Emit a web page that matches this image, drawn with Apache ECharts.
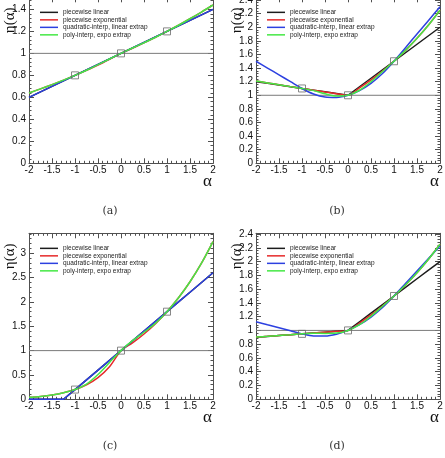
<!DOCTYPE html>
<html>
<head>
<meta charset="utf-8">
<script src="https://cdn.jsdelivr.net/npm/echarts/dist/echarts.min.js"></script>
<style>
  html, body { margin: 0; padding: 0; background: #fff; }
  #chart { width: 445px; height: 458px; }
</style>
</head>
<body>
<div id="chart"></div>
<script>
// alpha sampling and interpolation nodes
const alpha = [-2, -1.75, -1.5, -1.25, -1, -0.75, -0.5, -0.25, 0, 0.25, 0.5, 0.75, 1, 1.25, 1.5, 1.75, 2]
const nodeAlpha = [-1, 0, 1]

// (a)
const linA = [0.6, 0.65, 0.7, 0.75, 0.8, 0.85, 0.9, 0.95, 1, 1.05, 1.1, 1.15, 1.2, 1.25, 1.3, 1.35, 1.4]
const expA = [0.64, 0.677, 0.716, 0.757, 0.8, 0.846, 0.894, 0.946, 1, 1.047, 1.095, 1.147, 1.2, 1.256, 1.315, 1.376, 1.44]
const quadA = [0.6, 0.65, 0.7, 0.75, 0.8, 0.85, 0.9, 0.95, 1, 1.05, 1.1, 1.15, 1.2, 1.25, 1.3, 1.35, 1.4]
const polyA = [0.64, 0.677, 0.716, 0.757, 0.8, 0.846, 0.897, 0.949, 1, 1.049, 1.097, 1.147, 1.2, 1.256, 1.315, 1.376, 1.44]
const nodesA = [0.8, 1, 1.2]

// (b)
const linB = [1.2, 1.175, 1.15, 1.125, 1.1, 1.075, 1.05, 1.025, 1, 1.125, 1.25, 1.375, 1.5, 1.625, 1.75, 1.875, 2]
const expB = [1.21, 1.182, 1.154, 1.127, 1.1, 1.074, 1.049, 1.024, 1, 1.107, 1.225, 1.355, 1.5, 1.66, 1.837, 2.033, 2.25]
const quadB = [1.5, 1.4, 1.3, 1.2, 1.1, 1.019, 0.975, 0.969, 1, 1.069, 1.175, 1.319, 1.5, 1.7, 1.9, 2.1, 2.3]
const polyB = [1.21, 1.182, 1.154, 1.127, 1.1, 1.068, 1.022, 0.988, 1, 1.074, 1.2, 1.35, 1.5, 1.66, 1.837, 2.033, 2.25]
const nodesB = [1.1, 1, 1.5]

// (c)
const linC = [0, 0, 0, 0, 0.2, 0.4, 0.6, 0.8, 1, 1.2, 1.4, 1.6, 1.8, 2.0, 2.2, 2.4, 2.6]
const expC = [0.04, 0.06, 0.089, 0.134, 0.2, 0.299, 0.447, 0.669, 1, 1.158, 1.342, 1.554, 1.8, 2.085, 2.415, 2.797, 3.24]
const quadC = [0, 0, 0, 0, 0.2, 0.4, 0.6, 0.8, 1, 1.2, 1.4, 1.6, 1.8, 2.0, 2.2, 2.4, 2.6]
const polyC = [0.04, 0.06, 0.089, 0.134, 0.2, 0.313, 0.509, 0.757, 1, 1.204, 1.377, 1.563, 1.8, 2.085, 2.415, 2.797, 3.24]
const nodesC = [0.2, 1, 1.8]

// (d)
const linD = [0.9, 0.9125, 0.925, 0.9375, 0.95, 0.9625, 0.975, 0.9875, 1, 1.125, 1.25, 1.375, 1.5, 1.625, 1.75, 1.875, 2]
const expD = [0.903, 0.914, 0.926, 0.938, 0.95, 0.962, 0.975, 0.987, 1, 1.107, 1.225, 1.355, 1.5, 1.66, 1.837, 2.033, 2.25]
const quadD = [1.125, 1.081, 1.038, 0.994, 0.95, 0.92, 0.919, 0.945, 1, 1.083, 1.194, 1.333, 1.5, 1.681, 1.863, 2.044, 2.225]
const polyD = [0.903, 0.914, 0.926, 0.938, 0.95, 0.959, 0.957, 0.962, 1, 1.083, 1.206, 1.351, 1.5, 1.66, 1.837, 2.033, 2.25]
const nodesD = [0.95, 1, 1.5]

const refLevel = [1, 1]
const yMax = [1.51, 2.44, 3.41, 2.41]
const yStep = [0.2, 0.2, 0.5, 0.2]
const captions = ['(a)', '(b)', '(c)', '(d)']
const names = ['piecewise linear', 'piecewise exponential', 'quadratic-interp, linear extrap', 'poly-interp, expo extrap']
const colors = ['#1c1c1c', '#e62a2a', '#2c40e0', '#45e845']

const panels = [
  [linA, expA, quadA, polyA, nodesA],
  [linB, expB, quadB, polyB, nodesB],
  [linC, expC, quadC, polyC, nodesC],
  [linD, expD, quadD, polyD, nodesD]
]
// quadratic curve is a straight line in (a) and (c), so no smoothing there
const quadSmooth = [false, 0.3, false, 0.3]

// layout
const boxes = [
  { left: 29, top: -2.7 },
  { left: 256, top: -2.7 },
  { left: 29, top: 233.3 },
  { left: 256, top: 233.3 }
]
const W = 184
const H = 166
const frame = '#505050'
const labelFont = { fontFamily: 'Liberation Sans', fontSize: 10, color: '#111' }

const zip = (xs, ys) => xs.map((x, i) => [x, ys[i]])

const grid = []
const xAxis = []
const yAxis = []
const series = []
const legend = []
const graphic = []

boxes.forEach((b, i) => {
  grid.push({ left: b.left, top: b.top, width: W, height: H, outerBoundsMode: 'none', containLabel: false })

  const tick = { show: true, inside: true, length: 5, lineStyle: { color: frame, width: 1 } }
  const minor = { show: true, splitNumber: 5, length: 2.5, lineStyle: { color: frame, width: 1 } }

  xAxis.push({
    type: 'value', gridIndex: i, min: -2, max: 2, interval: 0.5,
    axisLine: { show: true, onZero: false, lineStyle: { color: frame, width: 1 } },
    axisTick: tick, minorTick: minor, splitLine: { show: false },
    axisLabel: Object.assign({ margin: 2 }, labelFont)
  })
  xAxis.push({
    type: 'value', gridIndex: i, min: -2, max: 2, interval: 0.5, position: 'top',
    axisLine: { show: true, onZero: false, lineStyle: { color: frame, width: 1 } },
    axisTick: tick, minorTick: minor, splitLine: { show: false },
    axisLabel: { show: false }
  })
  yAxis.push({
    type: 'value', gridIndex: i, min: 0, max: yMax[i], interval: yStep[i],
    axisLine: { show: true, onZero: false, lineStyle: { color: frame, width: 1 } },
    axisTick: tick, minorTick: minor, splitLine: { show: false },
    axisLabel: Object.assign({ margin: 3, showMaxLabel: false }, labelFont)
  })
  yAxis.push({
    type: 'value', gridIndex: i, min: 0, max: yMax[i], interval: yStep[i], position: 'right',
    axisLine: { show: true, onZero: false, lineStyle: { color: frame, width: 1 } },
    axisTick: tick, minorTick: minor, splitLine: { show: false },
    axisLabel: { show: false }
  })

  const xi = i * 2
  const yi = i * 2

  // reference line at eta = 1
  series.push({
    type: 'line', xAxisIndex: xi, yAxisIndex: yi, data: zip([-2, 2], refLevel),
    symbol: 'none', silent: true, lineStyle: { color: '#7a7a7a', width: 1 }, z: 1
  })

  const p = panels[i]
  const smooth = [false, 0.3, quadSmooth[i], 0.3]
  for (let k = 0; k < 4; k++) {
    series.push({
      name: names[k], type: 'line', xAxisIndex: xi, yAxisIndex: yi,
      data: zip(alpha, p[k]), symbol: 'none',
      smooth: smooth[k],
      lineStyle: { color: colors[k], width: 1.5 },
      itemStyle: { color: colors[k] },
      z: 2 + k
    })
  }

  series.push({
    type: 'scatter', xAxisIndex: xi, yAxisIndex: yi, data: zip(nodeAlpha, p[4]),
    symbol: 'rect', symbolSize: 7, silent: true,
    itemStyle: { color: 'rgba(0,0,0,0)', borderColor: '#6a6a6a', borderWidth: 1 },
    z: 10
  })

  legend.push({
    data: names, orient: 'vertical', left: b.left + 11, top: b.top + 11.3,
    padding: 0, itemGap: 0, itemWidth: 18, itemHeight: 1.5, icon: 'rect',
    selectedMode: false,
    textStyle: { fontFamily: 'Liberation Sans', fontSize: 6.5, lineHeight: 7.5, color: '#222', padding: 0 }
  })

  // axis titles and panel captions
  graphic.push({
    type: 'text', x: b.left - 19, y: b.top + 23, rotation: Math.PI / 2,
    style: { text: 'η(α)', align: 'center', verticalAlign: 'middle', font: '15px "Liberation Serif"', fill: '#111' }
  })
  graphic.push({
    type: 'text', x: b.left + W - 1, y: b.top + H + 10,
    style: { text: 'α', align: 'right', verticalAlign: 'top', font: '17px "Liberation Serif"', fill: '#111' }
  })
  graphic.push({
    type: 'text', x: b.left + 81, y: i < 2 ? 210.7 : 446,
    style: { text: captions[i], align: 'center', verticalAlign: 'middle', font: '11px "DejaVu Serif"', fill: '#333' }
  })
})

const chart = echarts.init(document.getElementById('chart'), null, { renderer: 'canvas' })
chart.setOption({
  backgroundColor: '#fff',
  animation: false,
  grid, xAxis, yAxis, series, legend, graphic
})
</script>
</body>
</html>
